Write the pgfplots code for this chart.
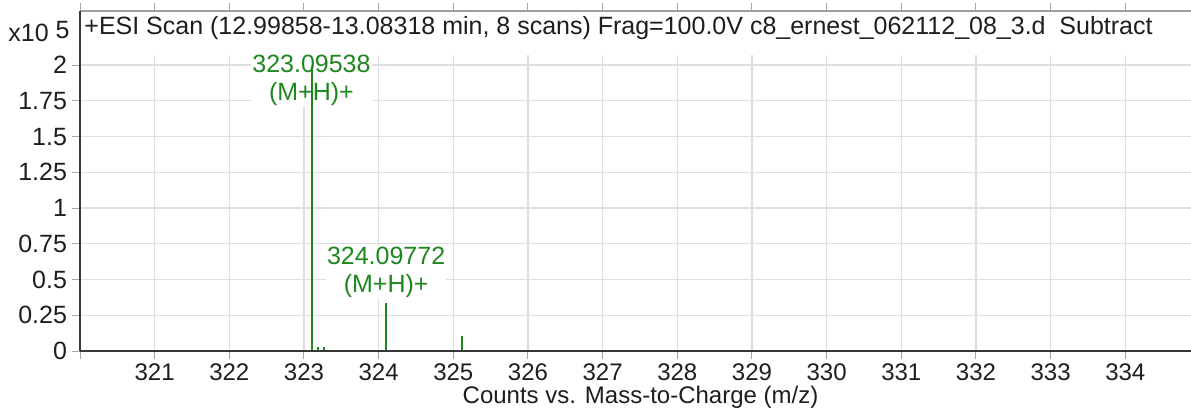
\documentclass[border=0pt]{standalone}
\usepackage{fontspec}
\setmainfont{Liberation Sans}
\usepackage{pgfplots}
\pgfplotsset{compat=1.18}
\usetikzlibrary{calc}
\definecolor{peakgreen}{RGB}{30,135,30}
\definecolor{gridgray}{RGB}{222,222,222}
\definecolor{axisdark}{RGB}{55,55,55}
\definecolor{txt}{RGB}{30,30,30}

\begin{document}
\begin{tikzpicture}[font=\fontsize{12.5}{14}\selectfont, text=txt]
\begin{axis}[
    set layers,
    scale only axis,
    width=555.5pt, height=170pt,
    xmin=320, xmax=334.88,
    ymin=0, ymax=2.378,
    axis line style={draw=none},
    xtick={321,...,334},
    extra x ticks={320}, extra x tick labels={},
    ytick={0,0.25,0.5,0.75,1,1.25,1.5,1.75,2},
    yticklabels={0,0.25,0.5,0.75,1,1.25,1.5,1.75,2},
    ymajorgrids,
    grid style={gridgray, line width=0.6pt},
    tick align=outside,
    major tick length=4pt,
    tick style={gray!70, line width=0.5pt},
    /pgf/number format/assume math mode=true,
    yticklabel style={xshift=1pt},
    xticklabel style={inner sep=0pt, yshift=-2pt, font=\fontsize{12}{13}\selectfont},
    xlabel={Counts vs. Mass-to-Charge (m/z)},
    xlabel style={at={(axis description cs:0.5,0)}, anchor=base, inner sep=0pt, yshift=-26pt, xshift=2.5pt, font=\fontsize{12}{13}\selectfont},
    clip=false,
]
    % vertical grid lines stop below the title
    \pgfplotsinvokeforeach{321,...,334}{
        \draw[gridgray, line width=0.6pt] (axis cs:#1,0) -- (axis cs:#1,2.07);
    }

    % peak annotations
    \node[peakgreen, fill=white, inner sep=0.5pt, align=center] at (axis cs:323.1,1.89) {323.09538\\(M+H)+};
    \node[peakgreen, fill=white, inner sep=0.5pt, align=center] at (axis cs:324.1,0.55) {324.09772\\(M+H)+};

    % spectrum
    \addplot[ycomb, peakgreen, line width=1pt, mark=none, on layer=axis foreground] coordinates {
        (323.11, 1.99)
        (323.19, 0.03)
        (323.27, 0.03)
        (324.10, 0.335)
        (325.115, 0.105)
        (326.13, 0.01)
    };

    \begin{pgfonlayer}{axis foreground}
        \draw[gray!75, line width=0.6pt] (rel axis cs:0,1) -- (rel axis cs:1,1);
        \draw[axisdark, line width=1pt] (rel axis cs:0,0) -- (rel axis cs:0,1);
        \draw[axisdark, line width=1.2pt] (rel axis cs:0,0) -- (rel axis cs:1,0);
    \end{pgfonlayer}

    \node[anchor=base west, inner sep=0pt] at ($(rel axis cs:0,1)+(2pt,-12pt)$)
        {+ESI Scan (12.99858-13.08318 min, 8 scans) Frag=100.0V c8\_ernest\_062112\_08\_3.d\ \ Subtract};
\end{axis}
\node[anchor=base east, inner sep=0pt] at ($(current axis.north west)+(-5pt,-15.5pt)$) {x10 \raisebox{1.7pt}{5}};
\pgfresetboundingbox
\path[use as bounding box] ($(current axis.south west)+(-40pt,-28.5pt)$) rectangle ($(current axis.north east)+(0pt,5.5pt)$);
\end{tikzpicture}
\end{document}
